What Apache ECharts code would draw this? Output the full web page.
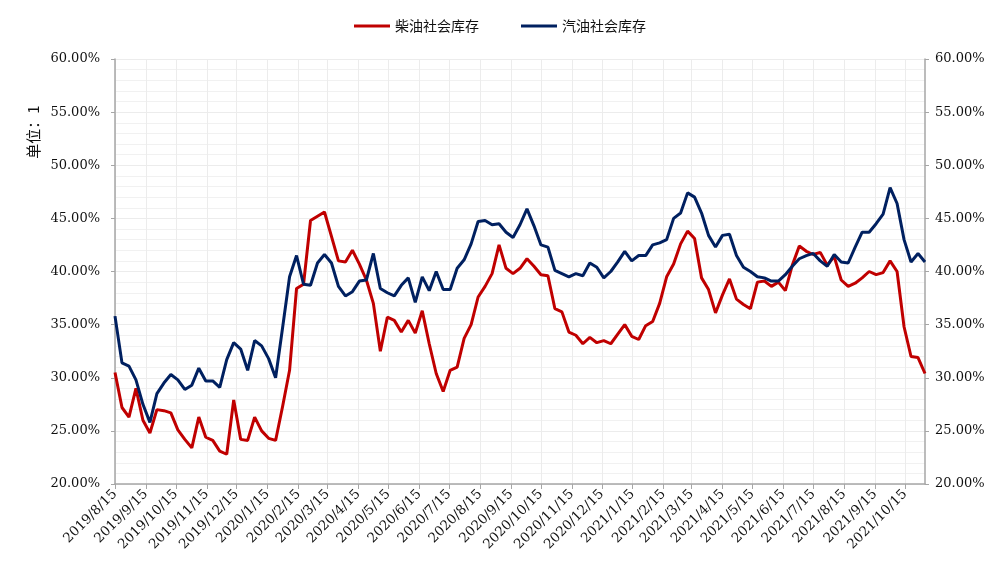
<!DOCTYPE html>
<html>
<head>
<meta charset="utf-8">
<script src="https://cdn.jsdelivr.net/npm/echarts@6/dist/echarts.min.js"></script>
<style>
html,body{margin:0;padding:0;background:#fff;}
#chart{width:1000px;height:576px;}
</style>
</head>
<body>
<div id="chart"></div>
<script>
// Weekly data starting 2019/8/15
const startDate = [2019, 8, 15];
const endDate = [2021, 11, 4];
const tickLabels = ['2019/8/15','2019/9/15','2019/10/15','2019/11/15','2019/12/15','2020/1/15','2020/2/15','2020/3/15','2020/4/15','2020/5/15','2020/6/15','2020/7/15','2020/8/15','2020/9/15','2020/10/15','2020/11/15','2020/12/15','2021/1/15','2021/2/15','2021/3/15','2021/4/15','2021/5/15','2021/6/15','2021/7/15','2021/8/15','2021/9/15','2021/10/15'];
const yTicks = [20, 25, 30, 35, 40, 45, 50, 55, 60];
const seriesNames = ['柴油社会库存', '汽油社会库存'];

const diesel = [30.5,27.2,26.3,29.0,26.0,24.8,27.0,26.9,26.7,25.1,24.2,23.4,26.3,24.4,24.1,23.1,22.8,27.9,24.2,24.1,26.3,25.0,24.3,24.1,
27.3,30.7,38.4,38.8,44.8,45.2,45.6,43.3,41.0,40.9,42.0,40.7,39.2,37.0,32.5,35.7,35.4,34.3,35.4,34.2,36.3,33.2,30.4,28.7,
30.7,31.0,33.7,35.0,37.6,38.6,39.8,42.5,40.3,39.8,40.3,41.2,40.5,39.7,39.6,36.5,36.2,34.3,34.0,33.2,33.8,33.3,33.5,33.2,
34.1,35.0,33.9,33.6,34.9,35.3,37.0,39.5,40.7,42.6,43.8,43.1,39.4,38.3,36.1,37.8,39.3,37.4,36.9,36.5,39.0,39.1,38.6,
39.0,38.2,40.6,42.4,41.9,41.6,41.8,40.6,41.4,39.2,38.6,38.9,39.4,40.0,39.7,39.9,41.0,40.0,34.8,32.0,31.9,30.4];
const gasoline = [35.8,31.4,31.1,29.8,27.5,25.8,28.5,29.5,30.3,29.8,28.9,29.3,30.9,29.7,29.7,29.1,31.7,33.3,32.7,30.7,33.5,33.0,31.8,30.0,
34.7,39.5,41.5,38.8,38.7,40.8,41.6,40.8,38.6,37.7,38.1,39.1,39.2,41.7,38.4,38.0,37.7,38.7,39.4,37.1,39.5,38.2,40.0,38.3,
38.3,40.3,41.1,42.6,44.7,44.8,44.4,44.5,43.7,43.2,44.4,45.9,44.3,42.5,42.3,40.1,39.8,39.5,39.8,39.6,40.8,40.4,39.4,40.0,
40.9,41.9,41.0,41.5,41.5,42.5,42.7,43.0,45.0,45.5,47.4,47.0,45.5,43.4,42.3,43.4,43.5,41.5,40.4,40.0,39.5,39.4,39.1,
39.1,39.7,40.5,41.2,41.5,41.7,41.0,40.5,41.6,40.9,40.8,42.3,43.7,43.7,44.5,45.4,47.9,46.4,43.0,40.9,41.7,40.9];

function ts(y, m, d) { return new Date(y, m - 1, d).getTime(); }
function parseLabel(s) { const p = s.split('/').map(Number); return ts(p[0], p[1], p[2]); }
const t0 = ts(startDate[0], startDate[1], startDate[2]);
const dates = diesel.map((_, i) => {
  const d = new Date(t0); d.setDate(d.getDate() + 7 * i); return d.getTime();
});
const tickValues = tickLabels.map(parseLabel);

function fmtDate(v) {
  let best = 0, bd = Infinity;
  tickValues.forEach((t, i) => { const dd = Math.abs(t - v); if (dd < bd) { bd = dd; best = i; } });
  return tickLabels[best];
}

const chart = echarts.init(document.getElementById('chart'));
const fontNum = 'DejaVu Serif';
const yAxisCommon = {
  type: 'value', min: 20, max: 60, interval: 5,
  axisLine: { show: true, lineStyle: { color: '#a6a6a6', width: 1.5 } },
  axisTick: { show: true, length: 4, lineStyle: { color: '#a6a6a6' } },
  axisLabel: { color: '#111', fontFamily: fontNum, fontSize: 13, formatter: v => v.toFixed(2) + '%', margin: 15 },
  splitLine: { show: true, lineStyle: { color: '#ececec', width: 1 } },
  minorTick: { show: false, splitNumber: 5 },
  minorSplitLine: { show: true, lineStyle: { color: '#f1f1f1', width: 1 } }
};
chart.setOption({
  animation: false,
  backgroundColor: '#fff',
  legend: {
    top: 14, left: 'center', itemWidth: 36, itemHeight: 3, itemGap: 42,
    icon: 'rect',
    textStyle: { fontFamily: 'Noto Sans CJK SC', fontSize: 14, color: '#111' },
    data: seriesNames
  },
  grid: { left: 115, right: 75, top: 59, bottom: 92 },
  graphic: [{
    type: 'text', x: 33, y: 132, rotation: Math.PI / 2,
    style: { text: '单位：1', fontFamily: 'Noto Sans CJK SC', fontSize: 15, fill: '#111', align: 'center', verticalAlign: 'middle' }
  }],
  xAxis: {
    type: 'value', min: t0, max: ts(endDate[0], endDate[1], endDate[2]),
    axisLine: { lineStyle: { color: '#a6a6a6', width: 1.5 } },
    axisTick: { show: true, length: 5, customValues: tickValues, lineStyle: { color: '#a6a6a6' } },
    axisLabel: { customValues: tickValues, rotate: 45, formatter: v => fmtDate(v), color: '#111', fontFamily: fontNum, fontSize: 13.5, margin: 8 },
    splitLine: { show: true, customValues: tickValues, lineStyle: { color: '#ececec' } }
  },
  yAxis: [
    Object.assign({}, yAxisCommon, { position: 'left' }),
    Object.assign({}, yAxisCommon, { position: 'right', axisLabel: Object.assign({}, yAxisCommon.axisLabel, { margin: 10 }), splitLine: { show: false }, minorSplitLine: { show: false } })
  ],
  series: [
    { name: seriesNames[0], type: 'line', showSymbol: false, symbol: 'none', color: '#C00000', lineStyle: { width: 3, color: '#C00000' }, data: dates.map((d, i) => [d, diesel[i]]) },
    { name: seriesNames[1], type: 'line', showSymbol: false, symbol: 'none', color: '#002060', lineStyle: { width: 3, color: '#002060' }, data: dates.map((d, i) => [d, gasoline[i]]) }
  ]
});
</script>
</body>
</html>
